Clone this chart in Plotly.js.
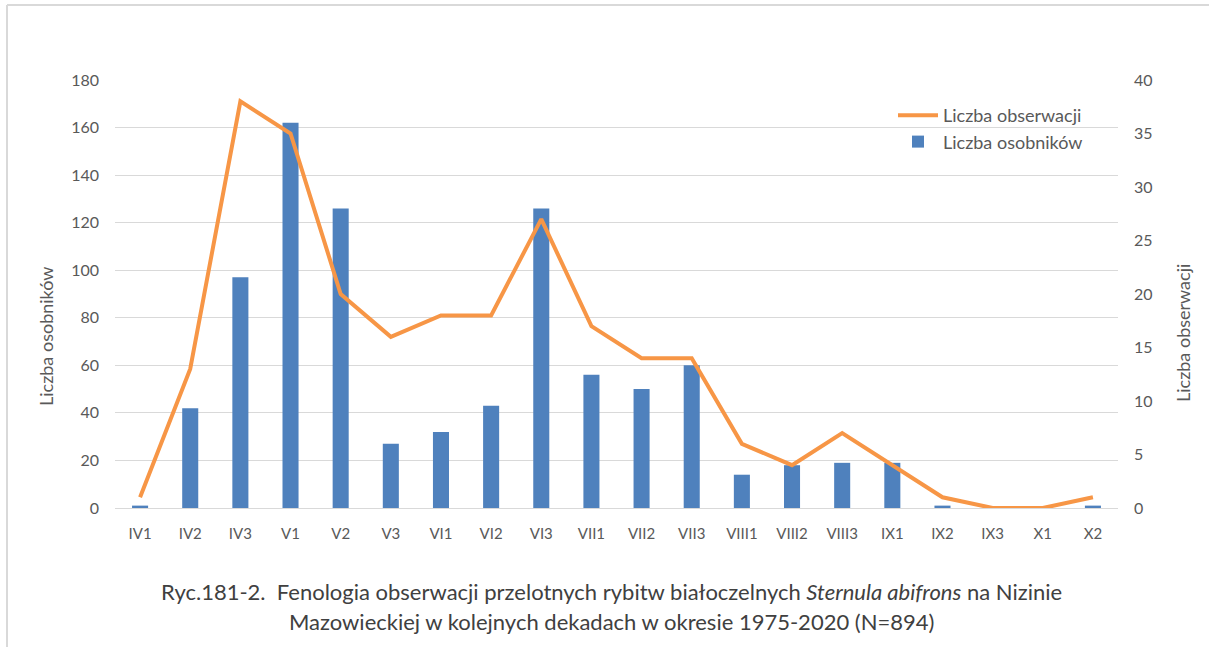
<!DOCTYPE html>
<html>
<head>
<meta charset="utf-8">
<script src="https://cdn.plot.ly/plotly-3.0.1.min.js"></script>
<style>
  html, body { margin: 0; padding: 0; background: #fff; }
  #chart { width: 1209px; height: 647px; }
</style>
</head>
<body>
<div id="chart"></div>
<script>
const categories = ["IV1","IV2","IV3","V1","V2","V3","VI1","VI2","VI3","VII1","VII2","VII3","VIII1","VIII2","VIII3","IX1","IX2","IX3","X1","X2"];
const osobnikow = [1,42,97,162,126,27,32,43,126,56,50,60,14,18,19,19,1,0,0,1];
const obserwacji = [1,13,38,35,20,16,18,18,27,17,14,14,6,4,7,4,1,0,0,1];
const leftTicks = [0,20,40,60,80,100,120,140,160,180];
const rightTicks = [0,5,10,15,20,25,30,35,40];
const leftTitle = "Liczba osobników";
const rightTitle = "Liczba obserwacji";

const FONT = "Lato, Open Sans, sans-serif";
const gray = "#595959";

const lineTrace = {
  x: categories, y: obserwacji, type: "scatter", mode: "lines",
  name: "Liczba obserwacji", yaxis: "y2",
  line: { color: "#f79646", width: 4 }
};
const barTrace = {
  x: categories, y: osobnikow, type: "bar",
  name: "Liczba osobników", yaxis: "y",
  marker: { color: "#4f81bd" }
};

const L = 115, R = 1118, T = 80, B = 508;
const pw = R - L, ph = B - T;
const px = v => (v - L) / pw;
const py = v => (B - v) / ph;

const layout = {
  width: 1209, height: 647,
  margin: { l: L, r: 1209 - R, t: T, b: 647 - B },
  paper_bgcolor: "#ffffff", plot_bgcolor: "#ffffff",
  font: { family: FONT, color: gray, size: 16 },
  bargap: 0.68,
  showlegend: true,
  legend: {
    x: px(893), y: py(97), xanchor: "left", yanchor: "top",
    bgcolor: "rgba(0,0,0,0)", font: { size: 18, color: gray },
    itemwidth: 40
  },
  xaxis: {
    type: "category", showgrid: false, zeroline: false,
    showline: true, linecolor: "#d9d9d9", linewidth: 1,
    ticks: "", ticklabelstandoff: 12, tickfont: { size: 15, color: gray }
  },
  yaxis: {
    range: [0, 180], tickvals: leftTicks, showgrid: true, gridcolor: "#d9d9d9", gridwidth: 1,
    zeroline: false, showline: false, ticks: "", ticklabelstandoff: 15,
    tickfont: { size: 16, color: gray }
  },
  yaxis2: {
    range: [0, 40], tickvals: rightTicks, overlaying: "y", side: "right",
    showgrid: false, zeroline: false, showline: false, ticks: "", ticklabelstandoff: 15,
    tickfont: { size: 16, color: gray }
  },
  shapes: [
    { type: "line", xref: "paper", yref: "paper", x0: px(7), x1: px(7), y0: py(5), y1: py(700),
      line: { color: "#d9d9d9", width: 2 } },
    { type: "line", xref: "paper", yref: "paper", x0: px(7), x1: px(1300), y0: py(5), y1: py(5),
      line: { color: "#d9d9d9", width: 2 } }
  ],
  annotations: [
    { xref: "paper", yref: "paper", x: px(46), y: py(337), xanchor: "center", yanchor: "middle",
      textangle: -90, showarrow: false, font: { size: 18, color: gray, family: FONT }, text: leftTitle },
    { xref: "paper", yref: "paper", x: px(1183), y: py(333), xanchor: "center", yanchor: "middle",
      textangle: -90, showarrow: false, font: { size: 18, color: gray, family: FONT }, text: rightTitle },
    { xref: "paper", yref: "paper", x: px(611), y: py(591), xanchor: "center", yanchor: "middle",
      showarrow: false, font: { size: 22, color: "#404040", family: FONT },
      text: "Ryc.181-2.  Fenologia obserwacji przelotnych rybitw białoczelnych <i>Sternula abifrons</i> na Nizinie" },
    { xref: "paper", yref: "paper", x: px(611), y: py(621), xanchor: "center", yanchor: "middle",
      showarrow: false, font: { size: 22, color: "#404040", family: FONT },
      text: "Mazowieckiej w kolejnych dekadach w okresie 1975-2020 (N=894)" }
  ]
};

Plotly.newPlot("chart", [lineTrace, barTrace], layout, { displayModeBar: false, staticPlot: true });
</script>
</body>
</html>
